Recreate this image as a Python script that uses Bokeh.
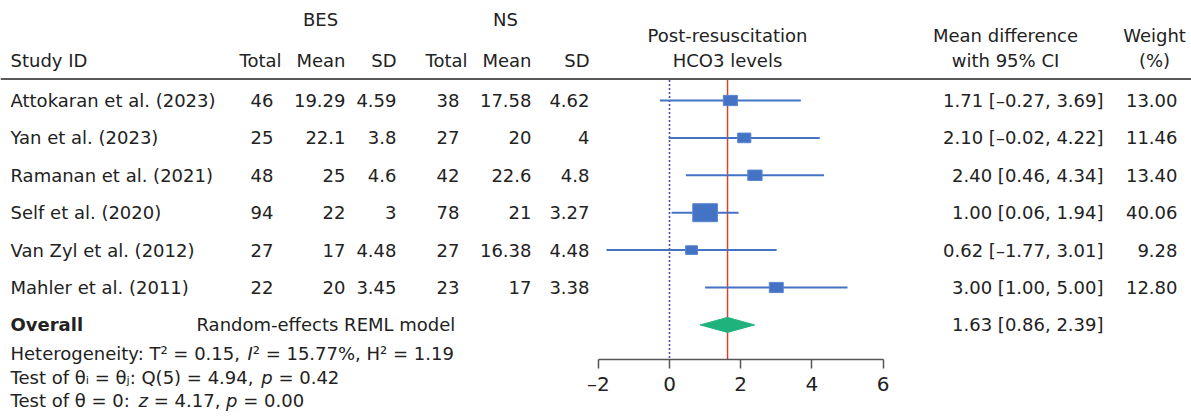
from bokeh.plotting import figure
from bokeh.models import Range1d, LinearAxis, FixedTicker, ColumnDataSource
from bokeh.embed import file_html
from bokeh.resources import INLINE
from bokeh.core.properties import value
import math

# ---------------- data ----------------
studies = ["Attokaran et al. (2023)", "Yan et al. (2023)", "Ramanan et al. (2021)",
           "Self et al. (2020)", "Van Zyl et al. (2012)", "Mahler et al. (2011)"]
bes_n = [46, 25, 48, 94, 27, 22]
bes_mean = [19.29, 22.1, 25, 22, 17, 20]
bes_sd = [4.59, 3.8, 4.6, 3, 4.48, 3.45]
ns_n = [38, 27, 42, 78, 27, 23]
ns_mean = [17.58, 20, 22.6, 21, 16.38, 17]
ns_sd = [4.62, 4, 4.8, 3.27, 4.48, 3.38]
md = [1.71, 2.10, 2.40, 1.00, 0.62, 3.00]
ci_lo = [-0.27, -0.02, 0.46, 0.06, -1.77, 1.00]
ci_hi = [3.69, 4.22, 4.34, 1.94, 3.01, 5.00]
weights = [13.00, 11.46, 13.40, 40.06, 9.28, 12.80]
overall_md = 1.63
overall_lo = 0.86
overall_hi = 2.39
axis_ticks = [-2, 0, 2, 4, 6]

# ---------------- layout helpers ----------------
W, H = 1191, 419
ROW0, ROWH = 62.6, 37.4
def r(px):
    return (px - ROW0) / ROWH
X0, XS = 669.0, 35.6

FONTNAME = "DejaVu Sans"
FONT = value(FONTNAME)
FSZ = 18
FS = f"{FSZ}px"
TC = "#222222"
BLUE = "#4472C4"

p = figure(width=W, height=H, x_range=Range1d(0, W), y_range=Range1d(r(H), r(0)),
           output_backend="svg", toolbar_location=None, min_border=0,
           x_axis_type=None, y_axis_type=None, outline_line_color=None)
p.extra_x_ranges = {"eff": Range1d(-X0 / XS, (W - X0) / XS)}
p.background_fill_color = "white"

def txt(xs, ys, texts, align="left", style="normal", size=FS):
    p.text(x=xs, y=ys, text=texts, text_font=FONT, text_font_size=size,
           text_align=align, text_baseline="middle", text_color=TC,
           text_font_style=style)

def fnum(v):
    return f"{v:g}"

def f2(v):
    return f"{v:.2f}".replace("-", "\u2013")

rows = list(range(1, len(studies) + 1))
orow = len(studies) + 1

# header
y_top, y1, y2 = r(19), r(35), r(60)
txt([320, 505], [y_top, y_top], ["BES", "NS"], align="center")
txt([10], [y2], ["Study ID"])
txt([281, 345, 396, 467, 531, 589], [y2] * 6, ["Total", "Mean", "SD", "Total", "Mean", "SD"], align="right")
txt([727, 1005, 1154], [y1] * 3, ["Post-resuscitation", "Mean difference", "Weight"], align="center")
txt([727, 1005, 1154], [y2] * 3, ["HCO3 levels", "with 95% CI", "(%)"], align="center")
p.segment(x0=[0], x1=[W], y0=[r(78.5)], y1=[r(78.5)], line_color="#5a5a5a", line_width=2)

# table columns
txt([10] * len(rows), rows, studies)
txt([273] * len(rows), rows, [str(v) for v in bes_n], align="right")
txt([345] * len(rows), rows, [fnum(v) for v in bes_mean], align="right")
txt([396] * len(rows), rows, [fnum(v) for v in bes_sd], align="right")
txt([459] * len(rows), rows, [str(v) for v in ns_n], align="right")
txt([531] * len(rows), rows, [fnum(v) for v in ns_mean], align="right")
txt([589] * len(rows), rows, [fnum(v) for v in ns_sd], align="right")
txt([1103] * len(rows), rows, [f"{f2(m)} [{f2(a)}, {f2(b)}]" for m, a, b in zip(md, ci_lo, ci_hi)], align="right")
txt([1177] * len(rows), rows, [f"{w:.2f}" for w in weights], align="right")

# overall row
txt([10], [orow], ["Overall"], style="bold")
txt([196], [orow], ["Random-effects REML model"])
txt([1103], [orow], [f"{f2(overall_md)} [{f2(overall_lo)}, {f2(overall_hi)}]"], align="right")

# reference lines
ytop_line, yaxis = r(79.5), r(359)
p.segment(x0=[0], x1=[0], y0=[ytop_line], y1=[yaxis], x_range_name="eff",
          line_color="#4a4aaa", line_width=1.6, line_dash="2 2")
p.segment(x0=[overall_md], x1=[overall_md], y0=[ytop_line], y1=[yaxis], x_range_name="eff",
          line_color="#d4442c", line_width=1.5)

# CIs and squares
src = ColumnDataSource(dict(y=rows, md=md, lo=ci_lo, hi=ci_hi,
                            w=[3.9 * math.sqrt(v) for v in weights],
                            h=[3.9 * math.sqrt(v) / 1.37 for v in weights]))
p.segment(x0="lo", x1="hi", y0="y", y1="y", source=src, x_range_name="eff",
          line_color=BLUE, line_width=2)
p.rect(x="md", y="y", width="w", height="h", width_units="screen", height_units="screen",
       source=src, x_range_name="eff", fill_color=BLUE, line_color="#5b86d0", line_width=1)

# diamond
dh = 7.5 / ROWH
p.patch(x=[overall_lo, overall_md, overall_hi, overall_md],
        y=[orow, orow - dh, orow, orow + dh], x_range_name="eff",
        fill_color="#1fb27c", line_color="#1fb27c")

# effect axis
ax = LinearAxis(x_range_name="eff", ticker=FixedTicker(ticks=axis_ticks), bounds=(-2, 6),
                fixed_location=yaxis)
ax.major_label_overrides = {-2: "\u20132"}
ax.axis_line_color = "#555555"
ax.axis_line_width = 1.5
ax.major_tick_line_color = "#555555"
ax.major_tick_line_width = 1.5
ax.major_tick_out = 9
ax.major_tick_in = 0
ax.minor_tick_line_color = None
ax.major_label_text_font = FONTNAME
ax.major_label_text_font_size = "20px"
ax.major_label_text_color = TC
ax.major_label_standoff = 3
p.add_layout(ax, "below")

# heterogeneity text with italic pieces (DejaVu Sans advance widths, per 1000 em)
WID = {' ': 318, '\u00a0': 318, '.': 318, ',': 318, ':': 337, '=': 838, '%': 950,
       '(': 390, ')': 390, '\u00b2': 401, '\u03b8': 612, '\u1d62': 150, '\u2c7c': 150,
       'H': 752, 'e': 615, 't': 392, 'r': 411, 'o': 612, 'g': 635, 'n': 634, 'i': 278,
       'y': 592, 'T': 611, 'I': 295, 'Q': 787, 's': 521, 'f': 352, 'p': 635, 'z': 525,
       '0': 636, '1': 636, '2': 636, '3': 636, '4': 636, '5': 636, '6': 636, '7': 636,
       '8': 636, '9': 636}
def tw(s, size=FSZ):
    return sum(WID.get(c, 600) for c in s) * size / 1000.0

NB = "\u00a0"
het_lines = [
    [("Heterogeneity: T\u00b2 = 0.15, ", "normal"), ("I", "italic"), ("\u00b2 = 15.77%, H\u00b2 = 1.19", "normal")],
    [("Test of \u03b8\u1d62 = \u03b8\u2c7c: Q(5) = 4.94, ", "normal"), ("p", "italic"), (NB + "= 0.42", "normal")],
    [("Test of \u03b8 = 0: ", "normal"), ("z", "italic"), (NB + "= 4.17, ", "normal"), ("p", "italic"), (NB + "= 0.00", "normal")],
]
het_y = [r(353), r(377), r(400)]
for line, yy in zip(het_lines, het_y):
    x = 10.0
    for s, st in line:
        txt([x], [yy], [s], style=st)
        x += tw(s)

open("out.html", "w").write(file_html(p, INLINE))
